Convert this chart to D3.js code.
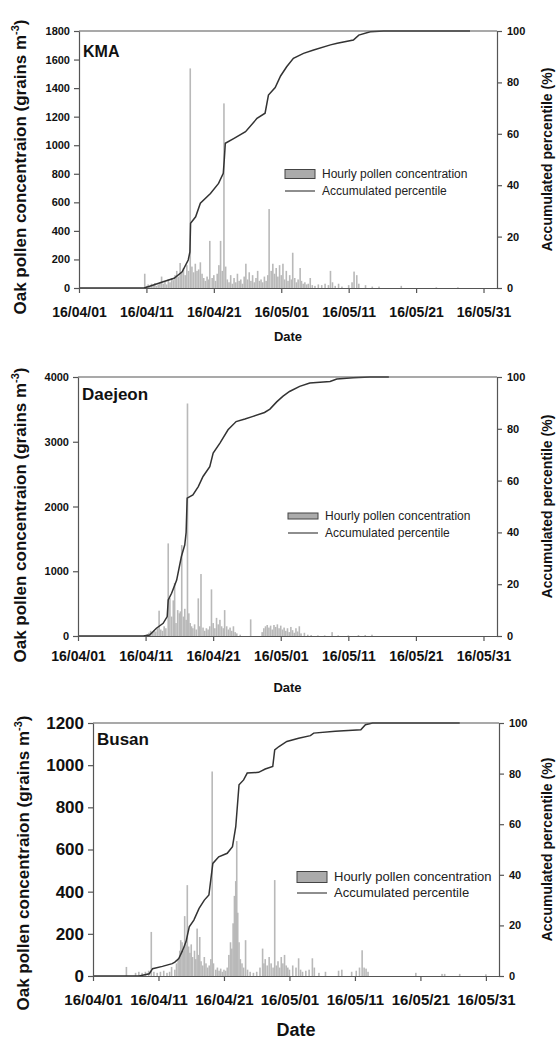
<!DOCTYPE html>
<html>
<head>
<meta charset="utf-8">
<script src="https://cdn.jsdelivr.net/npm/d3@7"></script>
<style>
  body { margin: 0; background: #fff; }
  svg { display: block; font-family: "Liberation Sans", Arial, sans-serif; }
</style>
</head>
<body>
<svg id="chart" width="557" height="1039"></svg>
<script>
// x tick labels (yy/mm/dd)
const dateTicks = ["16/04/01", "16/04/11", "16/04/21", "16/05/01", "16/05/11", "16/05/21", "16/05/31"];
const pctTicks = [0, 20, 40, 60, 80, 100];

// hourly pollen concentration, [days since 16/04/01, grains m-3]
const kmaHourly = [
  [9.75,100],[10,15],[10.25,25],[10.5,10],[10.75,30],[11,20],[11.25,35],[11.5,15],[11.75,25],[12,40],
  [12.25,80],[12.5,30],[12.75,45],[13,25],[13.25,60],[13.5,40],[13.75,70],[14,55],[14.25,90],[14.5,120],
  [14.75,80],[15,175],[15.25,110],[15.5,140],[15.75,90],[16,160],[16.25,120],[16.5,1538],[16.75,150],[17,110],
  [17.25,170],[17.5,120],[17.75,130],[18,180],[18.25,100],[18.5,70],[18.75,50],[19,80],[19.2,60],[19.4,330],
  [19.75,70],[20,90],[20.25,50],[20.5,100],[20.75,160],[21,330],[21.25,120],[21.5,1293],[21.75,150],[22,60],
  [22.25,40],[22.5,90],[22.75,30],[23,70],[23.25,40],[23.5,100],[23.75,50],[24,60],[24.25,30],[24.5,80],
  [24.75,170],[25,60],[25.25,110],[25.5,50],[25.75,90],[26,40],[26.25,70],[26.5,120],[26.75,50],[27,60],
  [27.25,40],[27.5,80],[27.75,50],[28,90],[28.2,553],[28.5,120],[28.75,170],[29,100],[29.25,140],[29.5,80],
  [29.75,160],[30,90],[30.25,170],[30.5,60],[30.75,120],[31,50],[31.25,90],[31.5,60],[31.7,247],[32,70],
  [32.25,40],[32.5,60],[32.8,140],[33,50],[33.25,30],[33.5,40],[33.75,25],[34,30],[34.3,70],[34.6,20],
  [35,15],[35.5,25],[36,20],[36.5,30],[37,20],[37.3,120],[37.6,40],[38,15],[38.5,30],[39,10],
  [40,20],[40.5,40],[40.8,115],[41.2,90],[41.5,30],[42.5,20],[43.5,10],[44.5,10],[47.8,15],[53,5],[56.2,5]
];
const daejeonHourly = [
  [10.25,30],[10.5,50],[10.75,80],[11,60],[11.25,90],[11.5,70],[11.75,120],[12,391],[12.25,100],[12.5,80],
  [12.75,150],[13,120],[13.35,1430],[13.6,585],[13.85,300],[14.1,550],[14.3,820],[14.5,200],[14.75,400],[15,350],
  [15.15,380],[15.35,1404],[15.6,300],[15.8,420],[16,250],[16.2,3591],[16.4,350],[16.6,200],[16.8,150],[17,120],
  [17.25,180],[17.5,100],[17.8,581],[18,150],[18.2,957],[18.5,130],[18.75,80],[19,120],[19.25,100],[19.5,150],
  [19.75,720],[20,200],[20.25,120],[20.5,280],[20.75,180],[21,250],[21.25,150],[21.5,120],[21.7,400],[22,150],
  [22.25,100],[22.5,130],[22.75,80],[23,150],[23.25,60],[23.5,40],[24,20],[25.55,257],[27.25,60],[27.5,120],
  [27.75,150],[28,170],[28.25,130],[28.5,160],[28.75,100],[29,170],[29.25,140],[29.5,180],[29.75,120],[30,160],
  [30.25,100],[30.5,130],[30.75,80],[31,120],[31.25,60],[31.5,140],[31.75,90],[32,50],[32.25,120],[32.5,70],
  [32.75,150],[33,40],[33.5,50],[34,20],[34.5,15],[35.5,10],[36.5,10],[37.6,60],[38.5,10],[40,10],
  [41.5,15],[42.5,15],[43.5,20]
];
const busanHourly = [
  [5.1,43],[6.5,15],[7,20],[7.5,15],[8,20],[8.5,25],[8.9,209],[9.3,20],[9.8,15],[10.3,20],
  [10.8,25],[11.3,15],[11.7,20],[12,43],[12.5,30],[12.75,60],[13,80],[13.25,120],[13.4,170],[13.6,160],
  [13.8,120],[14,284],[14.2,150],[14.4,431],[14.6,140],[14.8,110],[15,150],[15.2,90],[15.5,120],[15.7,80],
  [15.9,225],[16.1,100],[16.3,185],[16.5,70],[16.75,50],[17,90],[17.25,60],[17.5,40],[17.75,50],[18,80],
  [18.2,970],[18.4,60],[18.75,30],[19,40],[19.25,25],[19.5,35],[19.75,20],[20,30],[20.25,25],[20.5,40],
  [20.75,100],[21,160],[21.2,130],[21.4,250],[21.6,380],[21.8,450],[21.95,640],[22.1,300],[22.3,160],[22.5,80],
  [22.75,60],[23,40],[23.3,170],[23.6,30],[24,20],[24.5,15],[25,20],[25.5,40],[25.9,130],[26.1,60],
  [26.3,80],[26.6,50],[26.9,90],[27.2,60],[27.5,40],[27.75,455],[28,50],[28.25,70],[28.5,40],[28.75,90],
  [29,60],[29.25,100],[29.5,50],[29.75,40],[30,30],[30.5,50],[31,40],[31.4,84],[31.7,30],[32,20],
  [32.5,25],[33,30],[33.5,84],[33.8,40],[34.5,15],[35.5,20],[37.5,25],[38,30],[39.5,20],[40.2,25],
  [40.7,40],[41.1,122],[41.4,40],[41.7,35],[42,20],[49.3,15],[53.3,10],[53.7,10],[56,10],[60,8]
];

// accumulated percentile, [days since 16/04/01, %]
const kmaPct = [
  [0,0],[9.65,0],[10.6,0.8],[12.6,2.5],[14.1,3.8],[15.3,6.3],[16.2,10.9],[16.45,14],[16.55,25.2],[17.3,27.7],
  [18,33],[19.5,36.8],[20.7,40.7],[21.4,44.6],[21.55,50],[21.7,56.3],[23,58.2],[24.7,60.8],[26.4,66],[27.6,68],
  [28.1,75.1],[29.1,78],[29.9,82.5],[30.8,86.1],[31.8,89.4],[33.3,91.3],[34.8,92.6],[37.3,94.6],[38.3,95.2],[40.7,96.5],
  [41.5,98.4],[43.2,99.7],[45.2,100],[58,100]
];
const daejeonPct = [
  [0,0],[9.65,0],[10.6,0.4],[11.6,3],[12.6,4.9],[13.2,7.5],[13.35,13.9],[13.85,16.5],[14.6,21.6],[15.3,30.7],
  [15.8,35.2],[16,40],[16.15,53.2],[17,54.5],[17.8,57.7],[18.5,61.6],[19.5,65.4],[20,70.6],[21,74.5],[22.2,79.6],
  [23.4,82.8],[24.7,83.8],[25.9,84.8],[27.6,86.3],[28.4,87.6],[29.4,90.4],[30.3,92.5],[31.3,94.4],[32.8,96.4],[34.3,97.7],
  [37.3,98.3],[38.3,99.2],[40.7,99.7],[43.2,100],[46,100]
];
const busanPct = [
  [0,0],[7.05,0],[8.6,0.9],[9.1,2.9],[10.6,3.8],[12.1,4.9],[12.5,5.5],[13.1,6.9],[13.7,10.2],[14.2,13.5],
  [14.7,19.4],[15.4,22.1],[16.2,26.7],[17,30],[17.7,32],[18.3,44.5],[19.2,47.1],[20.5,48.5],[21.3,51.1],[21.8,59],
  [22.3,75.6],[23,77.5],[23.55,80.2],[25.3,80.5],[26.3,81.8],[27.45,82.8],[27.75,89.4],[28.4,90.7],[29.6,92.7],[31.4,94],
  [33.2,95],[33.7,96],[37,96.7],[40.9,97.3],[41.6,99.3],[42.7,100],[56,100]
];

const kmaTicks = [0, 200, 400, 600, 800, 1000, 1200, 1400, 1600, 1800];
const daejeonTicks = [0, 1000, 2000, 3000, 4000];
const busanTicks = [0, 200, 400, 600, 800, 1000, 1200];

const start = new Date(2016, 3, 1);
const parseTick = d3.timeParse("%y/%m/%d");
const toDate = d => d3.timeMinute.offset(start, Math.round(d * 1440));

const svg = d3.select("#chart");
const axisColor = "#555";

function drawPanel(p) {
  const g = svg.append("g");

  const x = d3.scaleTime()
    .domain([start, toDate(62)])
    .range([p.left, p.right]);
  const y = d3.scaleLinear()
    .domain([0, p.ticks[p.ticks.length - 1]])
    .range([p.bottom, p.top]);
  const y2 = d3.scaleLinear()
    .domain([0, 100])
    .range([p.bottom, p.top]);

  // bars
  g.append("g").selectAll("rect")
    .data(p.bars)
    .join("rect")
    .attr("x", d => x(toDate(d[0])) - 0.8)
    .attr("width", 1.6)
    .attr("y", d => y(d[1]))
    .attr("height", d => p.bottom - y(d[1]))
    .attr("fill", "#b9b9b9");

  // accumulated line
  g.append("path")
    .datum(p.pct)
    .attr("fill", "none")
    .attr("stroke", "#333")
    .attr("stroke-width", 1.5)
    .attr("d", d3.line()
      .x(d => x(toDate(d[0])))
      .y(d => y2(d[1])));

  // top frame
  g.append("line")
    .attr("x1", p.left).attr("x2", p.right)
    .attr("y1", p.top).attr("y2", p.top)
    .attr("stroke", axisColor).attr("stroke-width", 1.2);

  // axes
  const xAxis = g.append("g")
    .attr("transform", `translate(0,${p.bottom})`)
    .call(d3.axisBottom(x)
      .tickValues(dateTicks.map(parseTick))
      .tickFormat(d3.timeFormat("%y/%m/%d"))
      .tickSize(5).tickSizeOuter(0));
  xAxis.selectAll("text")
    .attr("y", p.xLabelDy)
    .attr("dy", 0)
    .style("font-size", p.xFont + "px")
    .style("font-weight", "bold")
    .attr("fill", "#111");

  const yAxis = g.append("g")
    .attr("transform", `translate(${p.left},0)`)
    .call(d3.axisLeft(y).tickValues(p.ticks).tickFormat(d3.format("d"))
      .tickSize(5).tickSizeOuter(0).tickPadding(4));
  yAxis.selectAll("text")
    .style("font-size", p.yFont + "px")
    .style("font-weight", "bold")
    .attr("fill", "#111");

  const rAxis = g.append("g")
    .attr("transform", `translate(${p.right},0)`)
    .call(d3.axisRight(y2).tickValues(pctTicks).tickFormat(d3.format("d"))
      .tickSize(5).tickSizeOuter(0).tickPadding(5));
  rAxis.selectAll("text")
    .style("font-size", "11px")
    .style("font-weight", "bold")
    .attr("fill", "#111");

  [xAxis, yAxis, rAxis].forEach(a => {
    a.select(".domain").attr("stroke", axisColor).attr("stroke-width", 1.2);
    a.selectAll(".tick line").attr("stroke", axisColor).attr("stroke-width", 1.2);
  });

  // station name
  g.append("text")
    .attr("x", p.left + 4).attr("y", p.nameY)
    .style("font-size", p.nameFont + "px")
    .style("font-weight", "bold")
    .attr("fill", "#111")
    .text(p.name);

  // legend
  const lg = g.append("g").attr("transform", `translate(${p.legX},${p.legY})`);
  lg.append("rect")
    .attr("x", 0).attr("y", -p.boxH / 2)
    .attr("width", 30).attr("height", p.boxH)
    .attr("fill", "#ababab").attr("stroke", "#444").attr("stroke-width", 1);
  lg.append("line")
    .attr("x1", 0).attr("x2", 30)
    .attr("y1", p.legGap).attr("y2", p.legGap)
    .attr("stroke", "#444").attr("stroke-width", 1.2);
  lg.append("text")
    .attr("x", 37).attr("y", 4)
    .style("font-size", p.legFont + "px").attr("fill", "#222")
    .text("Hourly pollen concentration");
  lg.append("text")
    .attr("x", 37).attr("y", p.legGap + 4)
    .style("font-size", p.legFont + "px").attr("fill", "#222")
    .text("Accumulated percentile");

  // axis titles
  g.append("text")
    .attr("x", (p.left + p.right) / 2).attr("y", p.dateY)
    .attr("text-anchor", "middle")
    .style("font-size", p.dateFont + "px")
    .style("font-weight", "bold")
    .attr("fill", "#111")
    .text("Date");

  const lt = g.append("text")
    .attr("transform", `translate(${p.leftTitleX},${p.leftTitleY}) rotate(-90)`)
    .attr("text-anchor", "middle")
    .style("font-size", "17px")
    .style("font-weight", "bold")
    .attr("fill", "#111");
  lt.append("tspan").text("Oak pollen concentraion (grains m");
  lt.append("tspan").attr("dy", -7).style("font-size", "11px").text("-3");
  lt.append("tspan").attr("dy", 7).text(")");

  g.append("text")
    .attr("transform", `translate(552,${(p.top + p.bottom) / 2}) rotate(-90)`)
    .attr("text-anchor", "middle")
    .style("font-size", "14px")
    .style("font-weight", "bold")
    .attr("fill", "#111")
    .text("Accumulated percentile (%)");
}

drawPanel({
  name: "KMA", bars: kmaHourly, pct: kmaPct, ticks: kmaTicks,
  left: 79, right: 497, top: 31, bottom: 288,
  yFont: 11, xFont: 14, xLabelDy: 29, nameFont: 16, nameY: 57,
  legX: 285, legY: 174, boxH: 9, legGap: 17, legFont: 12,
  dateY: 341, dateFont: 13, leftTitleX: 26, leftTitleY: 167
});
drawPanel({
  name: "Daejeon", bars: daejeonHourly, pct: daejeonPct, ticks: daejeonTicks,
  left: 78, right: 497, top: 377, bottom: 636,
  yFont: 11, xFont: 14, xLabelDy: 25, nameFont: 17, nameY: 400,
  legX: 288, legY: 516, boxH: 6, legGap: 17, legFont: 12,
  dateY: 692, dateFont: 13, leftTitleX: 26, leftTitleY: 515
});
drawPanel({
  name: "Busan", bars: busanHourly, pct: busanPct, ticks: busanTicks,
  left: 93, right: 499, top: 723, bottom: 976,
  yFont: 17, xFont: 15, xLabelDy: 29, nameFont: 17, nameY: 745,
  legX: 297, legY: 877, boxH: 11, legGap: 16, legFont: 13,
  dateY: 1036, dateFont: 18, leftTitleX: 29, leftTitleY: 863
});
</script>
</body>
</html>
